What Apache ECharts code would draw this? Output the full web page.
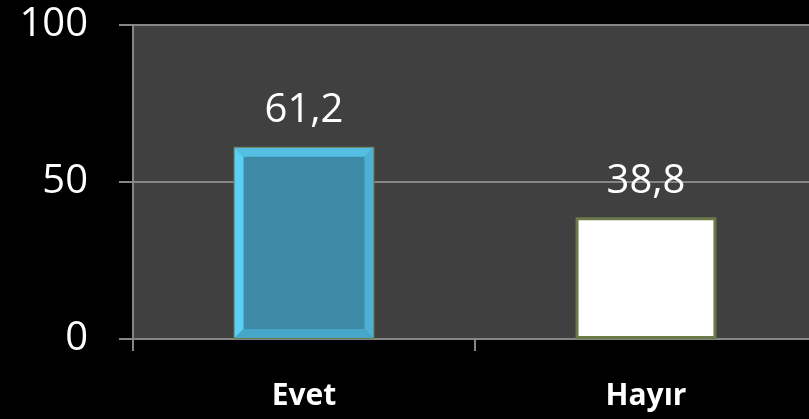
<!DOCTYPE html>
<html>
<head>
<meta charset="utf-8">
<script src="https://cdn.jsdelivr.net/npm/echarts@6/dist/echarts.min.js"></script>
<style>
html,body{margin:0;padding:0;background:#000;overflow:hidden;width:809px;height:419px;}
#c{width:840px;height:419px;}
</style>
</head>
<body>
<div id="c"></div>
<script>
var categories = ['Evet', 'Hayır'];
var values = [61.2, 38.8];
var yTicks = [0, 50, 100];

var chart = echarts.init(document.getElementById('c'), null, {renderer: 'canvas'});
var FONT = 'Open Sans';
var BAR_FRAC = 0.412;

function bevelItem(params, api) {
  if (params.dataIndex !== 0) return null;
  var idx = api.value(0), v = api.value(1);
  var top = api.coord([idx, v]);
  var base = api.coord([idx, 0]);
  var w = api.size([1, 0])[0] * BAR_FRAC;
  var x0 = top[0] - w / 2 + 1, x1 = top[0] + w / 2 - 1;
  var y0 = top[1] + 1, y1 = base[1] - 1;
  var t = 9;
  function poly(pts, col) {
    return {type: 'polygon', shape: {points: pts}, style: {fill: col}, silent: true};
  }
  return {
    type: 'group',
    children: [
      poly([[x0, y0], [x1, y0], [x1 - t, y0 + t], [x0 + t, y0 + t]], '#55bfe3'),
      poly([[x0, y0], [x0 + t, y0 + t], [x0 + t, y1 - t], [x0, y1]], '#5ccff5'),
      poly([[x1, y0], [x1, y1], [x1 - t, y1 - t], [x1 - t, y0 + t]], '#4bb2d6'),
      poly([[x0, y1], [x0 + t, y1 - t], [x1 - t, y1 - t], [x1, y1]], '#47a7ca')
    ]
  };
}

chart.setOption({
  backgroundColor: '#000000',
  animation: false,
  grid: {left: 133, top: 25, width: 684, height: 314, show: true, backgroundColor: '#404040', borderWidth: 0},
  xAxis: {
    type: 'category',
    data: categories,
    axisLine: {lineStyle: {color: '#868686', width: 2}},
    axisTick: {show: true, length: 12, lineStyle: {color: '#868686', width: 2}},
    axisLabel: {color: '#ffffff', fontSize: 30, fontWeight: 'bold', fontFamily: FONT, margin: 42}
  },
  yAxis: {
    type: 'value',
    min: yTicks[0], max: yTicks[yTicks.length - 1], interval: yTicks[1] - yTicks[0],
    axisLine: {show: true, lineStyle: {color: '#868686', width: 2}},
    axisTick: {show: true, length: 14, lineStyle: {color: '#868686', width: 2}},
    axisLabel: {color: '#ffffff', fontSize: 40, fontFamily: FONT, margin: 45},
    splitLine: {lineStyle: {color: '#868686', width: 2}}
  },
  series: [
    {
      type: 'bar',
      barWidth: (BAR_FRAC * 100) + '%',
      data: values.map(function (v, i) {
        return {
          value: v,
          itemStyle: i === 0
            ? {color: '#3e8ba7', borderColor: '#6a7a48', borderWidth: 2}
            : {color: '#ffffff', borderColor: '#6a7a48', borderWidth: 3}
        };
      }),
      label: {
        show: true, position: 'top', distance: 16,
        color: '#ffffff', fontSize: 40, fontFamily: FONT,
        formatter: function (p) { return String(p.value).replace('.', ','); }
      }
    },
    {
      type: 'custom',
      renderItem: bevelItem,
      data: values.map(function (v, i) { return [i, v]; }),
      z: 5
    }
  ]
});
</script>
</body>
</html>
